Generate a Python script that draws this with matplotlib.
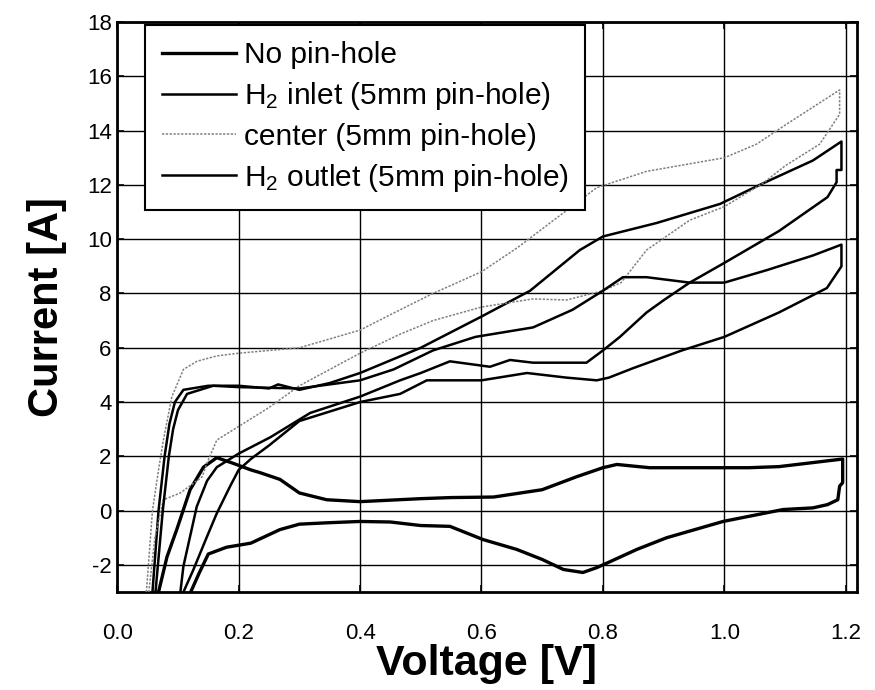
import matplotlib
matplotlib.use("Agg")
import matplotlib.pyplot as plt

plt.rcParams['font.family'] = ['Liberation Sans', 'DejaVu Sans']
plt.rcParams['mathtext.fontset'] = 'custom'
plt.rcParams['mathtext.rm'] = 'Liberation Sans'
plt.rcParams['mathtext.it'] = 'Liberation Sans'
plt.rcParams['axes.unicode_minus'] = False

# No pin-hole: forward scan then reverse scan
nopin_v = [0.068, 0.082, 0.098, 0.12, 0.142, 0.164, 0.19, 0.22, 0.235, 0.268, 0.3, 0.345, 0.4, 0.5,
           0.55, 0.62, 0.7, 0.757, 0.8, 0.823, 0.877, 1.0, 1.04, 1.09, 1.195,
           1.195, 1.19, 1.187, 1.17, 1.146, 1.097, 0.998, 0.905, 0.856, 0.81, 0.79, 0.767, 0.735,
           0.70, 0.658, 0.603, 0.548, 0.5, 0.45, 0.4, 0.345, 0.3, 0.268, 0.22, 0.18, 0.15, 0.135, 0.12]
nopin_i = [-3.0, -1.7, -0.7, 0.77, 1.6, 1.95, 1.75, 1.5, 1.4, 1.15, 0.65, 0.4, 0.33, 0.44,
           0.48, 0.5, 0.77, 1.25, 1.58, 1.7, 1.58, 1.58, 1.58, 1.62, 1.9,
           1.03, 0.9, 0.4, 0.22, 0.1, 0.04, -0.4, -1.0, -1.43, -1.9, -2.1, -2.28, -2.17,
           -1.8, -1.43, -1.07, -0.58, -0.55, -0.42, -0.4, -0.45, -0.5, -0.7, -1.2, -1.35, -1.6, -2.3, -3.05]

# H2 inlet pin-hole
inlet_v = [0.058, 0.068, 0.078, 0.086, 0.095, 0.109, 0.15, 0.2, 0.25, 0.265, 0.3, 0.35, 0.4, 0.5,
           0.6, 0.68, 0.762, 0.8, 0.889, 0.993, 1.063, 1.146, 1.193,
           1.193, 1.185, 1.185, 1.17, 1.09, 0.998, 0.943, 0.9, 0.872, 0.828, 0.8, 0.773, 0.685,
           0.647, 0.614, 0.548, 0.5, 0.466, 0.4, 0.318, 0.252, 0.2, 0.164, 0.148, 0.131, 0.12,
           0.109, 0.104]
inlet_i = [-3.0, 0.0, 2.0, 3.2, 4.0, 4.45, 4.6, 4.6, 4.5, 4.65, 4.45, 4.7, 5.07, 6.0,
           7.15, 8.1, 9.6, 10.1, 10.6, 11.3, 12.05, 12.9, 13.6,
           12.55, 12.55, 12.1, 11.55, 10.3, 9.1, 8.4, 7.75, 7.3, 6.4, 5.9, 5.45, 5.45,
           5.55, 5.3, 5.5, 5.07, 4.8, 4.2, 3.6, 2.7, 2.1, 1.6, 1.1, 0.15, -0.95,
           -2.05, -3.0]

# center pin-hole
center_v = [0.048, 0.058, 0.068, 0.076, 0.09, 0.109, 0.131, 0.164, 0.2, 0.3, 0.4, 0.466, 0.52,
            0.6, 0.66, 0.713, 0.79, 0.872, 1.0, 1.053, 1.1, 1.19,
            1.19, 1.157, 1.1, 1.063, 1.0, 0.943, 0.872, 0.83, 0.8, 0.74, 0.685, 0.6, 0.52,
            0.466, 0.4, 0.3, 0.25, 0.2, 0.164, 0.148, 0.14, 0.104, 0.076, 0.062, 0.052]
center_i = [-3.0, 0.0, 1.5, 2.6, 4.2, 5.2, 5.5, 5.7, 5.8, 6.0, 6.65, 7.4, 8.0,
            8.8, 9.7, 10.6, 11.9, 12.5, 13.0, 13.5, 14.2, 15.5,
            14.6, 13.5, 12.7, 12.05, 11.2, 10.7, 9.6, 8.4, 8.1, 7.76, 7.8, 7.5, 7.0,
            6.5, 5.8, 4.6, 3.8, 3.1, 2.6, 1.76, 1.25, 0.65, 0.4, -1.0, -3.0]

# H2 outlet pin-hole
outlet_v = [0.063, 0.075, 0.085, 0.092, 0.1, 0.115, 0.158, 0.2, 0.3, 0.4, 0.455, 0.52, 0.59,
            0.685, 0.75, 0.8, 0.833, 0.872, 0.943, 1.0, 1.07, 1.146, 1.193,
            1.193, 1.169, 1.09, 1.0, 0.93, 0.85, 0.81, 0.79, 0.74, 0.675, 0.6, 0.51, 0.466,
            0.4, 0.3, 0.25, 0.22, 0.2, 0.186, 0.164, 0.148, 0.125, 0.109]
outlet_i = [-3.0, 0.0, 2.0, 3.0, 3.7, 4.3, 4.6, 4.55, 4.5, 4.8, 5.2, 5.9, 6.4,
            6.75, 7.4, 8.1, 8.6, 8.6, 8.4, 8.4, 8.86, 9.4, 9.8,
            9.0, 8.2, 7.3, 6.4, 5.9, 5.25, 4.9, 4.8, 4.9, 5.07, 4.8, 4.8, 4.3,
            4.0, 3.3, 2.4, 1.9, 1.5, 0.9, -0.1, -0.95, -2.2, -3.0]

x_ticks = [0.0, 0.2, 0.4, 0.6, 0.8, 1.0, 1.2]
y_ticks = [-2, 0, 2, 4, 6, 8, 10, 12, 14, 16, 18]

fig = plt.figure(figsize=(8.75, 6.9), dpi=100)
ax = fig.add_axes([0.134, 0.142, 0.845, 0.826])

ax.plot(nopin_v, nopin_i, color='black', lw=2.4, label='No pin-hole', zorder=3)
ax.plot(inlet_v, inlet_i, color='black', lw=1.8, label='H$_2$ inlet (5mm pin-hole)', zorder=3)
ax.plot(center_v, center_i, color='0.5', lw=1.1, ls=(0, (1.5, 1)), label='center (5mm pin-hole)', zorder=3)
ax.plot(outlet_v, outlet_i, color='black', lw=1.8, label='H$_2$ outlet (5mm pin-hole)', zorder=3)

ax.set_xlim(0.0, 1.218)
ax.set_ylim(-3, 18)
ax.set_xticks(x_ticks)
ax.set_xticklabels(['0.0', '0.2', '0.4', '0.6', '0.8', '1.0', '1.2'])
ax.set_yticks(y_ticks)
ax.grid(True, color='black', lw=1.0)
ax.tick_params(direction='in', length=5, width=1.2, labelsize=16, top=True, right=True)
ax.tick_params(axis='x', pad=22)
ax.tick_params(axis='y', pad=4)
for s in ax.spines.values():
    s.set_linewidth(2.0)

ax.set_xlabel('Voltage [V]', fontsize=31, fontweight='bold', labelpad=0)
ax.set_ylabel('Current [A]', fontsize=30, fontweight='bold', labelpad=14)

leg = ax.legend(loc='upper left', bbox_to_anchor=(0.038, 0.995), borderaxespad=0,
                fontsize=21.5, frameon=True, fancybox=False, framealpha=1,
                edgecolor='black', handlelength=2.5, handletextpad=0.25,
                labelspacing=0.36, borderpad=0.55)
leg.get_frame().set_linewidth(1.5)
leg.set_zorder(5)

fig.savefig('out.png', dpi=100)
